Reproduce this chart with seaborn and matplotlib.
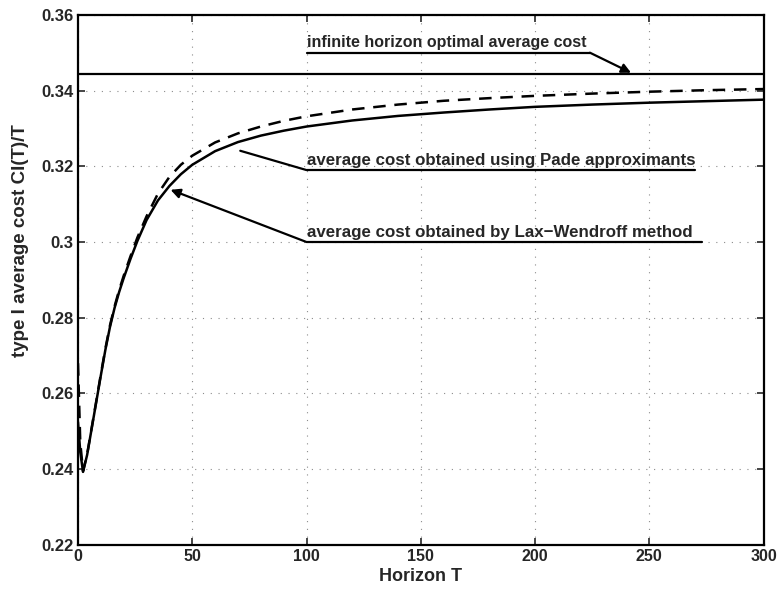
import matplotlib
matplotlib.use("Agg")
import matplotlib.pyplot as plt
import numpy as np
import pandas as pd
import seaborn as sns

# Average cost from the Lax-Wendroff scheme (solid curve)
T_lax = [0, 1, 2.2, 4, 6, 8, 10, 12, 14, 16, 18, 20, 23, 26, 30, 35, 40, 45, 50,
         60, 70, 80, 90, 100, 120, 140, 160, 180, 200, 225, 250, 275, 300]
cost_lax = [0.2525, 0.2445, 0.2393, 0.2438, 0.2508, 0.2578, 0.2648, 0.2716, 0.2776,
            0.2826, 0.2868, 0.2905, 0.2956, 0.3003, 0.3058, 0.3110, 0.3148, 0.3179,
            0.3204, 0.3240, 0.3264, 0.3281, 0.3294, 0.3305, 0.3321, 0.3333, 0.3342,
            0.3350, 0.3357, 0.3363, 0.3368, 0.3372, 0.3376]

# Average cost from Pade approximants (dashed curve)
T_pade = [0, 1, 2.2, 4, 6, 8, 10, 12, 14, 16, 18, 20, 23, 26, 30, 35, 40, 45, 50,
          60, 70, 80, 90, 100, 120, 140, 160, 180, 200, 225, 250, 275, 300]
cost_pade = [0.2680, 0.2470, 0.2395, 0.2440, 0.2510, 0.2580, 0.2651, 0.2719, 0.2780,
             0.2830, 0.2873, 0.2911, 0.2963, 0.3012, 0.3068, 0.3128, 0.3172, 0.3204,
             0.3228, 0.3263, 0.3287, 0.3305, 0.3320, 0.3332, 0.3350, 0.3363, 0.3373,
             0.3380, 0.3386, 0.3392, 0.3397, 0.3401, 0.3404]

infinite_cost = 0.3443

x_ticks = [0, 50, 100, 150, 200, 250, 300]
y_ticks = [0.22, 0.24, 0.26, 0.28, 0.30, 0.32, 0.34, 0.36]
y_tick_labels = ["0.22", "0.24", "0.26", "0.28", "0.3", "0.32", "0.34", "0.36"]

sns.set_style("ticks")
plt.rcParams["font.family"] = ["Liberation Sans", "DejaVu Sans"]

fig = plt.figure(figsize=(7.8, 5.93), dpi=100)
ax = fig.add_axes([0.1, 0.081, 0.879, 0.894])

df_lax = pd.DataFrame({"T": T_lax, "cost": cost_lax})
df_pade = pd.DataFrame({"T": T_pade, "cost": cost_pade})

sns.lineplot(data=df_pade, x="T", y="cost", ax=ax, color="black", lw=1.8,
             linestyle=(0, (5, 3.5)), sort=False)
sns.lineplot(data=df_lax, x="T", y="cost", ax=ax, color="black", lw=1.8, sort=False)
ax.axhline(infinite_cost, color="black", lw=1.6)

ax.set_xlim(0, 300)
ax.set_ylim(0.22, 0.36)
ax.set_xticks(x_ticks)
ax.set_yticks(y_ticks)
ax.set_yticklabels(y_tick_labels)
ax.tick_params(direction="in", length=5, width=1.2, top=True, right=True, pad=3)
ax.tick_params(axis="y", labelsize=12)
ax.tick_params(axis="x", labelsize=11.5)
for lab in ax.get_xticklabels() + ax.get_yticklabels():
    lab.set_fontweight("bold")

ax.grid(True, color="0.55", linestyle=(0, (1, 6)), lw=0.8)
for s in ax.spines.values():
    s.set_linewidth(1.6)
    s.set_color("black")

ax.set_xlabel("Horizon T", fontsize=13, fontweight="bold", labelpad=3)
ax.set_ylabel("type I average cost CI(T)/T", fontsize=13.5, fontweight="bold")
ax.yaxis.set_label_coords(-0.072, 0.575)

# Annotations: (text, size, underline start T, underline end T, underline level, arrow target, arrowhead)
notes = [
    ("infinite horizon optimal average cost", 11.5, 100, 224, 0.3500, (242, 0.3447), True),
    ("average cost obtained using Pade approximants", 12.2, 100, 270, 0.3190, (71, 0.3241), False),
    ("average cost obtained by Lax\u2212Wendroff method", 12.2, 100, 273, 0.3000, (40.5, 0.3138), True),
]
for text, size, x0, x1, yl, target, head in notes:
    ax.plot([x0, x1], [yl, yl], color="black", lw=1.6)
    ax.text(x0 + 0.3, yl + 0.0006, text, fontsize=size, fontweight="bold",
            ha="left", va="bottom")
    start = (x1, yl) if target[0] > x1 else (x0, yl)
    ax.annotate("", xy=target, xytext=start,
                arrowprops=dict(arrowstyle="-|>" if head else "-", color="black",
                                lw=1.6, mutation_scale=14, shrinkA=0, shrinkB=0))

fig.savefig("out.png", dpi=100)
